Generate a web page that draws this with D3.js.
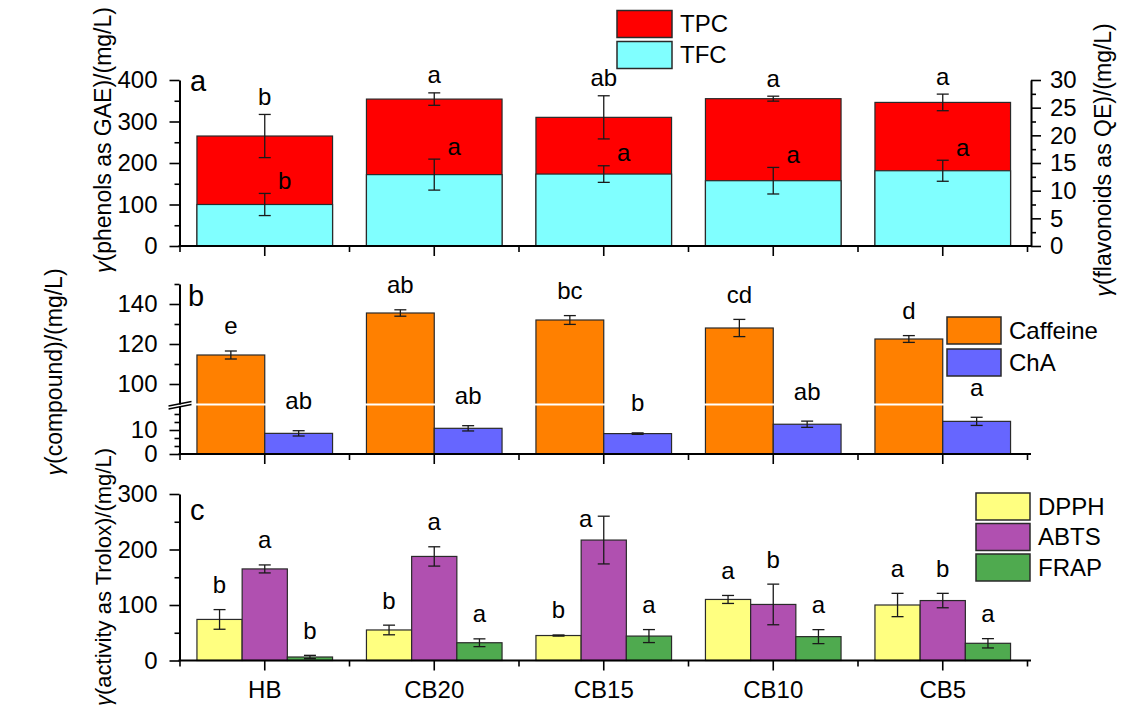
<!DOCTYPE html>
<html>
<head>
<meta charset="utf-8">
<script src="https://cdn.jsdelivr.net/npm/d3@7"></script>
<style>
  body { margin: 0; background: #fff; }
  svg text { font-family: "Liberation Sans", Arial, sans-serif; fill: #000; }
</style>
</head>
<body>
<svg id="chart" width="1126" height="711"></svg>
<script>
// ---- data ----
const categories = ["HB", "CB20", "CB15", "CB10", "CB5"];

// (a) total phenolics (mg/L GAE, left axis) and total flavonoids (mg/L QE, right axis)
const tpc = [265, 354, 310, 355, 346];
const tpcErr = [52, 15, 52, 6, 20];
const tpcSig = ["b", "a", "ab", "a", "a"];
const tfc = [7.5, 12.9, 13.0, 11.8, 13.6];
const tfcErr = [2.0, 2.8, 1.5, 2.4, 1.9];
const tfcSig = ["b", "a", "a", "a", "a"];

// (b) caffeine and chlorogenic acid (mg/L)
const caffeine = [114.5, 135.5, 132, 128, 122.5];
const caffeineErr = [2.0, 1.6, 2.2, 4.3, 1.7];
const caffeineSig = ["e", "ab", "bc", "cd", "d"];
const cha = [8.6, 10.7, 8.5, 12.4, 13.6];
const chaErr = [1.1, 1.1, 0.3, 1.3, 1.7];
const chaSig = ["ab", "ab", "b", "ab", "a"];

// (c) antioxidant activity (mg/L Trolox)
const dpph = [74, 55, 45, 110, 100];
const dpphErr = [17.7, 8.7, 1.0, 7.2, 21];
const dpphSig = ["b", "b", "b", "a", "a"];
const abts = [165, 187.5, 217, 101, 108];
const abtsErr = [7.2, 17.4, 43, 36.6, 13];
const abtsSig = ["a", "a", "a", "b", "b"];
const frap = [6.3, 32, 44, 43, 31];
const frapErr = [3.0, 7.0, 11.7, 12.6, 8.4];
const frapSig = ["b", "a", "a", "a", "a"];

// axis ticks
const ticksA = [0, 100, 200, 300, 400];
const minorA = [50, 150, 250, 350];
const ticksAR = [0, 5, 10, 15, 20, 25, 30];
const minorAR = [2.5, 7.5, 12.5, 17.5, 22.5, 27.5];
const ticksBLow = [0, 10];
const minorBLow = [10 / 3, 20 / 3, 40 / 3, 50 / 3];
const ticksBHigh = [100, 120, 140];
const minorBHigh = [110, 130, 150];
const ticksC = [0, 100, 200, 300];
const minorC = [50, 150, 250];

// ---- layout ----
const FONT = 24;
const svg = d3.select("#chart");
const INK = "#000";
const BAR_STROKE = "#2a2a2a";

const x = d3.scaleBand().domain(categories).range([180, 1027.5])
  .paddingInner(0.2).paddingOuter(0.1);
const axisLeftX = 179.5, axisRightX = 1031;

const yA = d3.scaleLinear().domain([0, 400]).range([246, 80]);
const yAR = d3.scaleLinear().domain([0, 30]).range([246, 80]);
const yBLow = d3.scaleLinear().domain([0, 20]).range([454, 406]);
const yBHigh = d3.scaleLinear().domain([90, 150]).range([404, 284]);
const yC = d3.scaleLinear().domain([0, 300]).range([660.5, 494]);

function styleAxis(g) {
  g.selectAll("path.domain").attr("stroke", INK).attr("stroke-width", 2);
  g.selectAll(".tick line").attr("stroke", INK).attr("stroke-width", 1.6);
  g.selectAll(".tick text").attr("font-size", FONT).attr("fill", INK)
    .attr("font-family", '"Liberation Sans", Arial, sans-serif');
}

function leftAxis(scale, majors, minors, fmt) {
  const g = svg.append("g").attr("transform", `translate(${axisLeftX},0)`);
  g.call(d3.axisLeft(scale).tickValues(majors).tickSize(10).tickSizeOuter(0)
    .tickPadding(12).tickFormat(fmt || d3.format("d")));
  const m = svg.append("g").attr("transform", `translate(${axisLeftX},0)`);
  m.call(d3.axisLeft(scale).tickValues(minors).tickSize(5).tickSizeOuter(0).tickFormat(""));
  m.select("path.domain").remove();
  styleAxis(g); styleAxis(m);
  return g;
}

function bottomAxis(y0, withLabels) {
  const g = svg.append("g");
  g.append("line").attr("x1", axisLeftX - 1).attr("x2", axisRightX)
    .attr("y1", y0).attr("y2", y0).attr("stroke", INK).attr("stroke-width", 2);
  const ax = svg.append("g").attr("transform", `translate(0,${y0})`)
    .call(d3.axisBottom(x).tickSize(10).tickSizeOuter(0).tickPadding(10)
      .tickFormat(withLabels ? (d => d) : ""));
  ax.select("path.domain").remove();
  styleAxis(ax);
  // minor ticks on the category boundaries
  const bounds = d3.range(categories.length + 1).map(i => x.range()[0] + i * x.step());
  g.selectAll("line.minor").data(bounds).join("line").attr("class", "minor")
    .attr("x1", d => d).attr("x2", d => d).attr("y1", y0).attr("y2", y0 + 6)
    .attr("stroke", INK).attr("stroke-width", 1.6);
}

function errorBar(g, cx, yTop, yBot) {
  const cap = 6;
  g.append("line").attr("x1", cx).attr("x2", cx).attr("y1", yTop).attr("y2", yBot);
  g.append("line").attr("x1", cx - cap).attr("x2", cx + cap).attr("y1", yTop).attr("y2", yTop);
  g.append("line").attr("x1", cx - cap).attr("x2", cx + cap).attr("y1", yBot).attr("y2", yBot);
  g.selectAll("line").attr("stroke", "#1a1a1a").attr("stroke-width", 1.3);
}

function sigLabel(px, py, txt) {
  svg.append("text").attr("x", px).attr("y", py).attr("dy", "0.35em")
    .attr("text-anchor", "middle").attr("font-size", FONT).text(txt);
}

function legend(items, x0, y0, rowH, w, h) {
  const g = svg.append("g");
  items.forEach((it, i) => {
    g.append("rect").attr("x", x0).attr("y", y0 + i * rowH).attr("width", w).attr("height", h)
      .attr("fill", it.color).attr("stroke", BAR_STROKE).attr("stroke-width", 1.5);
    g.append("text").attr("x", x0 + w + 8).attr("y", y0 + i * rowH + h / 2).attr("dy", "0.35em")
      .attr("font-size", FONT).text(it.name);
  });
}

function axisTitle(tx, ty, txt, size) {
  const t = svg.append("text").attr("transform", `translate(${tx},${ty}) rotate(-90)`)
    .attr("text-anchor", "middle").attr("font-size", size);
  t.append("tspan").attr("font-style", "italic").text("γ");
  t.append("tspan").text(txt);
}

function panelLetter(px, py, txt) {
  svg.append("text").attr("x", px).attr("y", py).attr("font-size", 29).text(txt);
}

// ================= panel (a) =================
const cA = { tpc: "#FF0000", tfc: "#80FFFF" };
const gA = svg.append("g");
gA.selectAll("rect.tpc").data(categories).join("rect").attr("class", "tpc")
  .attr("x", d => x(d)).attr("width", x.bandwidth())
  .attr("y", (d, i) => yA(tpc[i])).attr("height", (d, i) => yA(0) - yA(tpc[i]))
  .attr("fill", cA.tpc).attr("stroke", BAR_STROKE).attr("stroke-width", 1.2);
gA.selectAll("rect.tfc").data(categories).join("rect").attr("class", "tfc")
  .attr("x", d => x(d)).attr("width", x.bandwidth())
  .attr("y", (d, i) => yAR(tfc[i])).attr("height", (d, i) => yAR(0) - yAR(tfc[i]))
  .attr("fill", cA.tfc).attr("stroke", BAR_STROKE).attr("stroke-width", 1.2);
categories.forEach((c, i) => {
  const cx = x(c) + x.bandwidth() / 2;
  errorBar(svg.append("g"), cx, yA(tpc[i] + tpcErr[i]), yA(tpc[i] - tpcErr[i]));
  errorBar(svg.append("g"), cx, yAR(tfc[i] + tfcErr[i]), yAR(tfc[i] - tfcErr[i]));
  sigLabel(cx, yA(tpc[i] + tpcErr[i]) - 18, tpcSig[i]);
  sigLabel(cx + 20, yAR(tfc[i] + tfcErr[i]) - 13, tfcSig[i]);
});
leftAxis(yA, ticksA, minorA);
{
  const g = svg.append("g").attr("transform", `translate(${axisRightX},0)`);
  g.call(d3.axisRight(yAR).tickValues(ticksAR).tickSize(10).tickSizeOuter(0).tickPadding(9));
  const m = svg.append("g").attr("transform", `translate(${axisRightX},0)`);
  m.call(d3.axisRight(yAR).tickValues(minorAR).tickSize(5).tickSizeOuter(0).tickFormat(""));
  m.select("path.domain").remove();
  styleAxis(g); styleAxis(m);
}
bottomAxis(yA(0), false);
legend([{ name: "TPC", color: cA.tpc }, { name: "TFC", color: cA.tfc }], 617, 10.5, 31, 55, 27);
panelLetter(190, 91, "a");

// ================= panel (b) =================
const cB = { caffeine: "#FF8000", cha: "#6666FF" };
const subB = d3.scaleBand().domain(["caffeine", "cha"]).range([0, x.bandwidth()]);
const gB = svg.append("g");
gB.selectAll("rect.caf").data(categories).join("rect").attr("class", "caf")
  .attr("x", d => x(d) + subB("caffeine")).attr("width", subB.bandwidth())
  .attr("y", (d, i) => yBHigh(caffeine[i])).attr("height", (d, i) => yBLow(0) - yBHigh(caffeine[i]))
  .attr("fill", cB.caffeine).attr("stroke", BAR_STROKE).attr("stroke-width", 1.2);
gB.selectAll("rect.cha").data(categories).join("rect").attr("class", "cha")
  .attr("x", d => x(d) + subB("cha")).attr("width", subB.bandwidth())
  .attr("y", (d, i) => yBLow(cha[i])).attr("height", (d, i) => yBLow(0) - yBLow(cha[i]))
  .attr("fill", cB.cha).attr("stroke", BAR_STROKE).attr("stroke-width", 1.2);
// white gap marking the axis break
gB.append("rect").attr("x", x.range()[0]).attr("width", x.range()[1] - x.range()[0])
  .attr("y", yBHigh(90) - 0.5).attr("height", 2).attr("fill", "#fff");
categories.forEach((c, i) => {
  const cxCaf = x(c) + subB("caffeine") + subB.bandwidth() / 2;
  const cxCha = x(c) + subB("cha") + subB.bandwidth() / 2;
  errorBar(svg.append("g"), cxCaf, yBHigh(caffeine[i] + caffeineErr[i]), yBHigh(caffeine[i] - caffeineErr[i]));
  errorBar(svg.append("g"), cxCha, yBLow(cha[i] + chaErr[i]), yBLow(cha[i] - chaErr[i]));
  sigLabel(cxCaf, yBHigh(caffeine[i] + caffeineErr[i]) - 25, caffeineSig[i]);
  sigLabel(cxCha, yBLow(cha[i] + chaErr[i]) - 30, chaSig[i]);
});
leftAxis(yBLow, ticksBLow, minorBLow);
leftAxis(yBHigh, ticksBHigh, minorBHigh);
// break symbol on the axis
{
  const yb = (yBLow(20) + yBHigh(90)) / 2;
  const g = svg.append("g").attr("stroke", INK).attr("stroke-width", 1.3);
  g.append("line").attr("x1", axisLeftX - 11).attr("x2", axisLeftX + 12)
    .attr("y1", yb + 1).attr("y2", yb - 3.5);
  g.append("line").attr("x1", axisLeftX - 11).attr("x2", axisLeftX + 12)
    .attr("y1", yb + 4).attr("y2", yb - 0.5);
}
bottomAxis(yBLow(0), false);
legend([{ name: "Caffeine", color: cB.caffeine }, { name: "ChA", color: cB.cha }], 947, 317, 32, 54, 27);
panelLetter(188, 306, "b");

// ================= panel (c) =================
const seriesC = [
  { key: "DPPH", vals: dpph, err: dpphErr, sig: dpphSig, color: "#FFFF80" },
  { key: "ABTS", vals: abts, err: abtsErr, sig: abtsSig, color: "#B050B0" },
  { key: "FRAP", vals: frap, err: frapErr, sig: frapSig, color: "#4FAA4F" }
];
const subC = d3.scaleBand().domain(seriesC.map(s => s.key)).range([0, x.bandwidth()]);
const gC = svg.append("g");
seriesC.forEach(s => {
  gC.selectAll(`rect.${s.key}`).data(categories).join("rect").attr("class", s.key)
    .attr("x", d => x(d) + subC(s.key)).attr("width", subC.bandwidth())
    .attr("y", (d, i) => yC(s.vals[i])).attr("height", (d, i) => yC(0) - yC(s.vals[i]))
    .attr("fill", s.color).attr("stroke", BAR_STROKE).attr("stroke-width", 1.2);
});
seriesC.forEach(s => {
  categories.forEach((c, i) => {
    const cx = x(c) + subC(s.key) + subC.bandwidth() / 2;
    const top = yC(s.vals[i] + s.err[i]);
    errorBar(svg.append("g"), cx, top, yC(s.vals[i] - s.err[i]));
    let ly = top - 25, lx = cx;
    // a letter that would rise above the plot sits beside its error bar instead
    if (ly < yC.range()[1]) { lx = cx - 18; ly = top + 2; }
    sigLabel(lx, ly, s.sig[i]);
  });
});
leftAxis(yC, ticksC, minorC);
bottomAxis(yC(0), true);
legend(seriesC.map(s => ({ name: s.key, color: s.color })), 976, 493, 30.5, 54, 27);
panelLetter(190, 520, "c");

// ---- axis titles ----
axisTitle(111, 140, "(phenols as GAE)/(mg/L)", 23);
axisTitle(62, 372, "(compound)/(mg/L)", 23);
axisTitle(111, 577, "(activity as Trolox)/(mg/L)", 22);
axisTitle(1111, 160, "(flavonoids as QE)/(mg/L)", 23);
</script>
</body>
</html>
